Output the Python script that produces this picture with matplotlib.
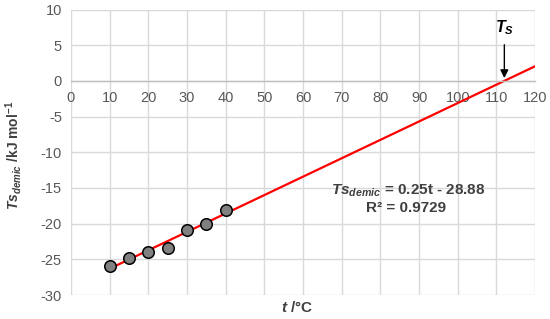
import numpy as np
import matplotlib
matplotlib.use("Agg")
import matplotlib.pyplot as plt

plt.rcParams['font.family'] = ['Liberation Sans', 'DejaVu Sans']
plt.rcParams['mathtext.fontset'] = 'custom'
plt.rcParams['mathtext.it'] = 'Liberation Sans:italic:bold'
plt.rcParams['mathtext.bf'] = 'Liberation Sans:bold'
plt.rcParams['mathtext.rm'] = 'Liberation Sans:bold'
plt.rcParams['axes.unicode_minus'] = False

t_vals = [10, 15, 20, 25, 30, 35, 40]
ts_vals = [-25.9, -24.8, -24.0, -23.4, -20.9, -20.0, -18.1]
x_ticks = [0, 10, 20, 30, 40, 50, 60, 70, 80, 90, 100, 110, 120]
y_ticks = [-30, -25, -20, -15, -10, -5, 0, 5, 10]
eq_text = r'$Ts_{demic}$ = 0.25t - 28.88'
r2_text = 'R² = 0.9729'

fig = plt.figure(figsize=(5.5, 3.19), dpi=100)
ax = fig.add_axes([0.129, 0.0752, 0.844, 0.895])

grid_c = '#d9d9d9'
tick_c = '#595959'

ax.set_xlim(0, 120)
ax.set_ylim(-30, 10)
ax.set_xticks(x_ticks)
ax.set_yticks(y_ticks)
ax.grid(True, color=grid_c, linewidth=1)
ax.set_axisbelow(True)
for s in ['top', 'right', 'left']:
    ax.spines[s].set_visible(False)
ax.spines['bottom'].set_position(('data', 0))
ax.spines['bottom'].set_color('#bfbfbf')
ax.spines['bottom'].set_linewidth(1)
ax.tick_params(axis='both', length=0, colors=tick_c, labelsize=10.5)
ax.tick_params(axis='x', pad=7.5)
ax.tick_params(axis='y', pad=6.5)

# trendline
coef = np.polyfit(t_vals, ts_vals, 1)
xl = np.array([min(t_vals), 120])
ax.plot(xl, np.polyval(coef, xl), color='#ff0000', linewidth=1.6, zorder=2)
ax.plot(t_vals, ts_vals, 'o', markersize=8.3, markerfacecolor='#808080',
        markeredgecolor='black', markeredgewidth=1.1, zorder=3, clip_on=False)

# T_S arrow
x0 = -coef[1] / coef[0]
ax.annotate('', xy=(x0, 0), xytext=(x0, 5.45),
            arrowprops=dict(arrowstyle='-|>', color='black', lw=1, mutation_scale=12))
ax.text(x0, 6.1, r'$T_S$', ha='center', va='bottom', fontsize=11.5, color='black')

ax.text(107.1, -15.4, eq_text, ha='right', va='center', fontsize=11,
        color='#404040', fontweight='bold')
ax.text(86.6, -17.8, r2_text, ha='center', va='center', fontsize=11,
        color='#404040', fontweight='bold')

fig.text(14 / 550, 1 - 155 / 319, r'$Ts_{demic}$ /kJ mol$^{-1}$', fontsize=10,
         color='#404040', fontweight='bold', rotation=90, ha='center', va='center')
fig.text(297 / 550, 1 - 307 / 319, r'$t$ /°C', ha='center', va='center', fontsize=11,
         color='#404040', fontweight='bold')

fig.savefig('out.png', dpi=100)
